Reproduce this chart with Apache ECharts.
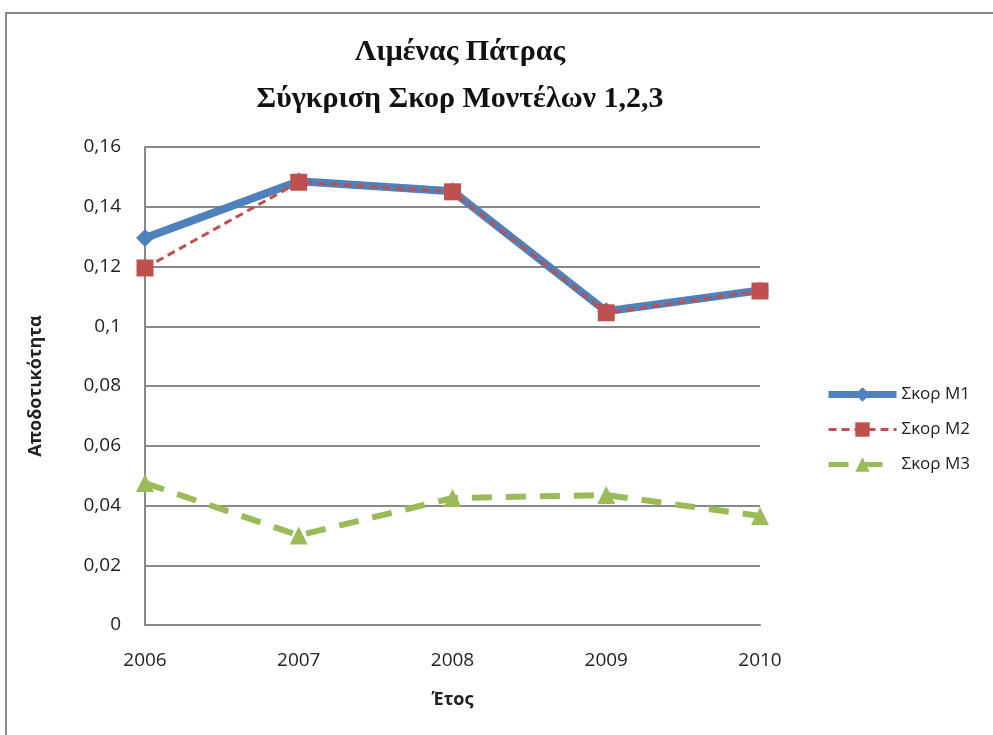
<!DOCTYPE html>
<html><head><meta charset="utf-8">
<script src="https://cdn.jsdelivr.net/npm/echarts@6/dist/echarts.min.js"></script>
<style>html,body{margin:0;padding:0;background:#fff}#c{width:993px;height:735px}</style>
</head><body><div id="c"></div>
<script>
var years = ['2006','2007','2008','2009','2010'];
var m1 = [0.1295, 0.1485, 0.1452, 0.1050, 0.1120];
var m2 = [0.1195, 0.1482, 0.1450, 0.1045, 0.1118];
var m3 = [0.0475, 0.0300, 0.0425, 0.0435, 0.0365];
var names = ['Σκορ M1','Σκορ M2','Σκορ M3'];
var yTicks = [0, 0.02, 0.04, 0.06, 0.08, 0.1, 0.12, 0.14, 0.16];

var chart = echarts.init(document.getElementById('c'));
var font = 'Open Sans';
chart.setOption({
  animation: false,
  backgroundColor: '#fff',
  graphic: [{type:'rect', shape:{x:6, y:13, width:1000, height:740}, style:{fill:'none', stroke:'#8a8a8a', lineWidth:2}}],
  title: {
    text: 'Λιμένας Πάτρας\nΣύγκριση Σκορ Μοντέλων 1,2,3',
    left: 455, top: 24, textAlign: 'center',
    textStyle: {fontFamily:'Liberation Serif', fontWeight:'bold', fontSize:30, lineHeight:47, color:'#111'}
  },
  legend: {
    orient: 'vertical', left: 820, top: 381, itemGap: 18, itemWidth: 68, itemHeight: 18,
    textStyle: {fontFamily: font, fontSize: 17, color:'#222'},
    data: [
      {name:names[0], lineStyle:{width:7}},
      {name:names[1], lineStyle:{width:3}},
      {name:names[2], lineStyle:{width:5}}
    ]
  },
  grid: {left:145, top:147, width:615, height:478},
  xAxis: {
    type:'category', data: years, boundaryGap:false,
    name:'Έτος', nameLocation:'middle', nameGap:66,
    nameTextStyle:{fontFamily:font, fontWeight:'bold', fontSize:18, color:'#222'},
    axisLine:{lineStyle:{color:'#888', width:2}},
    axisTick:{show:false},
    axisLabel:{fontFamily:font, fontSize:19, color:'#222', margin:26}
  },
  yAxis: {
    type:'value', min:0, max:0.16, interval:0.02,
    name:'Αποδοτικότητα', nameLocation:'middle', nameGap:100,
    nameTextStyle:{fontFamily:font, fontWeight:'bold', fontSize:18, color:'#222'},
    axisLine:{show:true, lineStyle:{color:'#888', width:2}},
    axisTick:{show:false},
    splitLine:{lineStyle:{color:'#888', width:2}},
    axisLabel:{fontFamily:font, fontSize:19, color:'#222', margin:24,
      formatter:function(v){ var t = yTicks.find(function(x){return Math.abs(x-v)<1e-9;}); return String(+(t!==undefined?t:v).toFixed(2)).replace('.',','); }}
  },
  series: [
    {name:names[0], type:'line', data:m1, symbol:'diamond', symbolSize:18, z:2,
     itemStyle:{color:'#4F81BD'}, lineStyle:{color:'#4F81BD', width:8}},
    {name:names[1], type:'line', data:m2, symbol:'rect', symbolSize:17, z:3,
     itemStyle:{color:'#C0504D'}, lineStyle:{color:'#C0504D', width:3, type:[8,5]}},
    {name:names[2], type:'line', data:m3, symbol:'triangle', symbolSize:18, z:3,
     itemStyle:{color:'#9BBB59'}, lineStyle:{color:'#9BBB59', width:6, type:[20,14]}}
  ]
});
</script></body></html>
